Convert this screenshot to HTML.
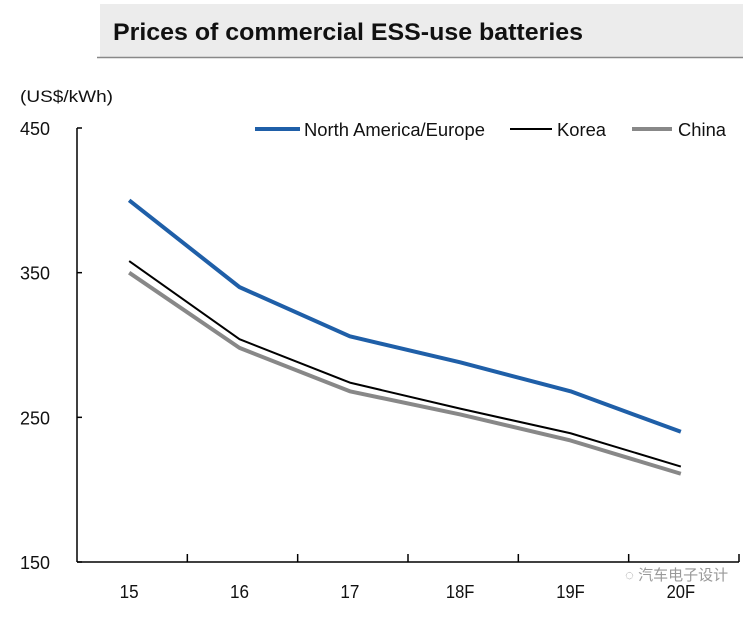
<!DOCTYPE html>
<html><head><meta charset="utf-8"><style>
body{margin:0;background:#fff;}
svg text{font-family:"Liberation Sans",sans-serif;}
</style></head><body>
<svg width="743" height="612" viewBox="0 0 743 612" xmlns="http://www.w3.org/2000/svg">
<rect x="100" y="4" width="643" height="53" fill="#ececec"/>
<line x1="97" y1="57.5" x2="743" y2="57.5" stroke="#888" stroke-width="1.5"/>
<text x="113" y="40" font-size="24" font-weight="bold" fill="#111" textLength="470" lengthAdjust="spacingAndGlyphs">Prices of commercial ESS-use batteries</text>
<text x="20" y="102" font-size="17" fill="#111" textLength="93" lengthAdjust="spacingAndGlyphs">(US$/kWh)</text>
<g id="axes"></g>
<g id="series"></g>
<g>
<line x1="255" y1="129" x2="300" y2="129" stroke="#1f5fa8" stroke-width="4"/>
<text x="304" y="136" font-size="18" fill="#111" textLength="181" lengthAdjust="spacingAndGlyphs">North America/Europe</text>
<line x1="510" y1="129" x2="552" y2="129" stroke="#000" stroke-width="2"/>
<text x="557" y="136" font-size="18" fill="#111" textLength="49" lengthAdjust="spacingAndGlyphs">Korea</text>
<line x1="632" y1="129" x2="672" y2="129" stroke="#888" stroke-width="4"/>
<text x="678" y="136" font-size="18" fill="#111" textLength="48" lengthAdjust="spacingAndGlyphs">China</text>
</g>
<text x="625" y="580" font-size="15" fill="#999" font-family="'Liberation Sans','Noto Sans CJK SC',sans-serif">◌ 汽车电子设计</text>
</svg>
<script>
const categories=["15","16","17","18F","19F","20F"];
const northAmericaEurope=[400,340,306,288,268,240];
const korea=[358,304,274,256,239,216];
const china=[350,298,268,252,234,211];
const yTicks=[150,250,350,450];
const NS="http://www.w3.org/2000/svg";
const x0=77,x1=739,yTop=128,yBot=562,vMin=150,vMax=450;
const band=(x1-x0)/categories.length;
function xs(i){return x0+band*(i+0.5)-3;}
function ys(v){return yBot-(v-vMin)/(vMax-vMin)*(yBot-yTop);}
function mk(tag,attrs,parent){const e=document.createElementNS(NS,tag);for(const k in attrs)e.setAttribute(k,attrs[k]);parent.appendChild(e);return e;}
const axes=document.getElementById('axes');
let ya=mk('line',{x1:x0,y1:yTop,x2:x0,y2:yBot,stroke:'#000','stroke-width':1.5},axes);


let xa=mk('line',{x1:x0,y1:yBot,x2:x1,y2:yBot,stroke:'#000','stroke-width':1.5},axes);


yTicks.forEach(v=>{
  const t=mk('line',{x1:x0,y1:ys(v),x2:x0+5,y2:ys(v),stroke:'#000','stroke-width':1.5},axes);
  
  
  const l=mk('text',{x:20,y:ys(v)+7,'font-size':18,fill:'#111',textLength:30,lengthAdjust:'spacingAndGlyphs'},axes);
  l.textContent=v;
  
  
});
for(let i=1;i<=categories.length;i++){
  const tx=x0+band*i;
  const t=mk('line',{x1:tx,y1:yBot,x2:tx,y2:yBot-8,stroke:'#000','stroke-width':1.5},axes);
  
  
}
categories.forEach((c,i)=>{
  const l=mk('text',{x:xs(i),y:598,'font-size':18,fill:'#111','text-anchor':'middle',textLength:c.length*9.5,lengthAdjust:'spacingAndGlyphs'},axes);
  l.textContent=c;
  
  
});
const sg=document.getElementById('series');
function line(vals,color,w,name){
  const p=mk('polyline',{points:vals.map((v,i)=>xs(i)+','+ys(v)).join(' '),fill:'none',stroke:color,'stroke-width':w,'stroke-linejoin':'round'},sg);
  
  
}
line(china,'#888',4,'series-china');
line(korea,'#000',2,'series-korea');
line(northAmericaEurope,'#1f5fa8',4,'series-north-america-europe');
</script>
</body></html>
